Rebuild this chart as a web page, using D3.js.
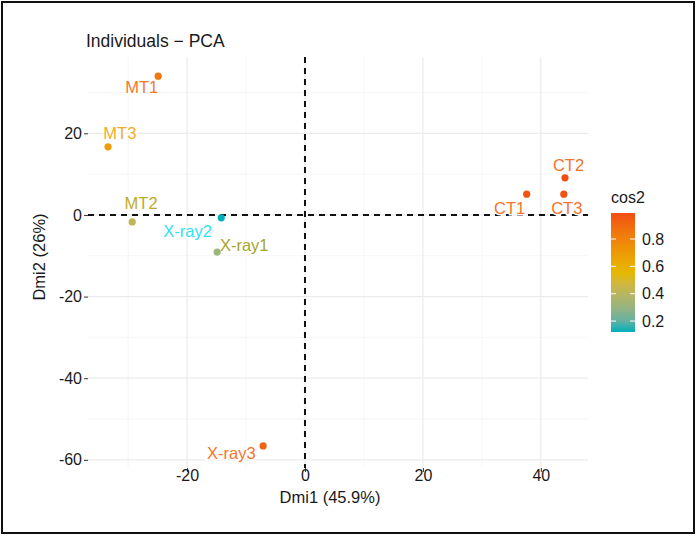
<!DOCTYPE html>
<html>
<head>
<meta charset="utf-8">
<script src="https://cdn.jsdelivr.net/npm/d3@7"></script>
<style>
  body { margin: 0; background: #fff; }
  svg { font-family: Helvetica, Arial, "Liberation Sans", sans-serif; }
</style>
</head>
<body>
<div id="chart"></div>
<script>
// individuals
var names = ["MT1", "MT3", "MT2", "X-ray2", "X-ray1", "X-ray3", "CT1", "CT2", "CT3"];
var dim1 = [-24.9, -33.4, -29.3, -14.2, -14.9, -7.1, 37.6, 44.1, 43.9];
var dim2 = [34.0, 16.7, -1.7, -0.7, -9.1, -56.6, 5.1, 9.1, 5.1];
var cos2 = [0.84, 0.69, 0.42, 0.12, 0.32, 0.92, 0.97, 0.99, 0.98];
// repelled label positions (data units)
var labelDim1 = [-27.7, -31.4, -27.8, -19.9, -10.3, -12.5, 34.7, 44.7, 44.4];
var labelDim2 = [31.3, 20.1, 2.9, -3.9, -7.3, -58.3, 1.7, 12.2, 1.7];

var xTicks = [-20, 0, 20, 40];
var yTicks = [-60, -40, -20, 0, 20];
var xMinor = [-30, -10, 10, 30];
var yMinor = [-50, -30, -10, 10, 30];
var legendTicks = [0.2, 0.4, 0.6, 0.8];

var W = 697, H = 536;
var panel = { left: 88, right: 588, top: 57, bottom: 468 };

var data = names.map(function (n, i) {
  return { name: n, x: dim1[i], y: dim2[i], cos2: cos2[i], lx: labelDim1[i], ly: labelDim2[i] };
});

var svg = d3.select("#chart").append("svg")
    .attr("width", W)
    .attr("height", H);

// outer frame
svg.append("rect")
    .attr("x", 2).attr("y", 2)
    .attr("width", W - 5).attr("height", H - 5)
    .attr("fill", "#fff")
    .attr("stroke", "#111")
    .attr("stroke-width", 2);

var x = d3.scaleLinear().domain([-36.8, 48]).range([panel.left, panel.right]);
var y = d3.scaleLinear().domain([-62, 38.7]).range([panel.bottom, panel.top]);

var cmin = d3.min(cos2), cmax = d3.max(cos2);
var color = d3.scaleLinear()
    .domain([cmin, (cmin + cmax) / 2, cmax])
    .range(["#00AFBB", "#E7B800", "#F24E12"])
    .interpolate(d3.interpolateLab);
// text labels render a bit brighter than the points
var labelColor = d3.scaleLinear()
    .domain([cmin, 0.3, 0.66, 0.8, cmax])
    .range(["#30E2F0", "#A0A52A", "#F4B82A", "#F67A2A", "#F5722A"]);

// grid
var grid = svg.append("g");
grid.selectAll(".minx").data(xMinor).enter().append("line")
    .attr("x1", x).attr("x2", x)
    .attr("y1", panel.top).attr("y2", panel.bottom)
    .attr("stroke", "#F4F4F4").attr("stroke-width", 0.8);
grid.selectAll(".miny").data(yMinor).enter().append("line")
    .attr("y1", y).attr("y2", y)
    .attr("x1", panel.left).attr("x2", panel.right)
    .attr("stroke", "#F4F4F4").attr("stroke-width", 0.8);
grid.selectAll(".majx").data(xTicks).enter().append("line")
    .attr("x1", x).attr("x2", x)
    .attr("y1", panel.top).attr("y2", panel.bottom)
    .attr("stroke", "#EBEBEB").attr("stroke-width", 1.2);
grid.selectAll(".majy").data(yTicks).enter().append("line")
    .attr("y1", y).attr("y2", y)
    .attr("x1", panel.left).attr("x2", panel.right)
    .attr("stroke", "#EBEBEB").attr("stroke-width", 1.2);

// zero lines
svg.append("line")
    .attr("x1", panel.left).attr("x2", panel.right)
    .attr("y1", y(0)).attr("y2", y(0))
    .attr("stroke", "#111").attr("stroke-width", 2)
    .attr("stroke-dasharray", "6,5");
svg.append("line")
    .attr("x1", x(0)).attr("x2", x(0))
    .attr("y1", panel.top).attr("y2", panel.bottom)
    .attr("stroke", "#111").attr("stroke-width", 2)
    .attr("stroke-dasharray", "6,5");

// axes
var xAxis = svg.append("g")
    .attr("transform", "translate(0," + panel.bottom + ")")
    .call(d3.axisBottom(x).tickValues(xTicks).tickSize(4).tickPadding(-2).tickFormat(d3.format("d")));
var yAxis = svg.append("g")
    .attr("transform", "translate(" + panel.left + ",0)")
    .call(d3.axisLeft(y).tickValues(yTicks).tickSize(4).tickPadding(2).tickFormat(d3.format("d")));
[xAxis, yAxis].forEach(function (a) {
  a.select(".domain").remove();
  a.selectAll(".tick line").attr("stroke", "#333");
  a.selectAll(".tick text").attr("fill", "#1a1a1a").style("font-size", "16px");
});
yAxis.selectAll(".tick text").text(function (d) { return d; });
xAxis.selectAll(".tick text").text(function (d) { return d; });

// labels
svg.append("g").selectAll("text")
    .data(data).enter().append("text")
    .attr("x", function (d) { return x(d.lx); })
    .attr("y", function (d) { return y(d.ly); })
    .attr("dy", "0.36em")
    .attr("text-anchor", "middle")
    .attr("fill", function (d) { return labelColor(d.cos2); })
    .attr("stroke", "#fff")
    .attr("stroke-width", 3)
    .attr("paint-order", "stroke")
    .style("font-size", "16.5px")
    .text(function (d) { return d.name; });

// points
svg.append("g").selectAll("circle")
    .data(data).enter().append("circle")
    .attr("cx", function (d) { return x(d.x); })
    .attr("cy", function (d) { return y(d.y); })
    .attr("r", 3.6)
    .attr("fill", function (d) { return color(d.cos2); });

// titles
svg.append("text")
    .attr("x", 86).attr("y", 47)
    .attr("fill", "#1a1a1a")
    .style("font-size", "17.5px")
    .text("Individuals \u2212 PCA");
svg.append("text")
    .attr("x", (panel.left + panel.right) / 2 - 8).attr("y", 503)
    .attr("text-anchor", "middle")
    .attr("fill", "#1a1a1a")
    .style("font-size", "16.5px")
    .text("Dmi1 (45.9%)");
svg.append("text")
    .attr("transform", "translate(45,257) rotate(-90)")
    .attr("text-anchor", "middle")
    .attr("fill", "#1a1a1a")
    .style("font-size", "16.5px")
    .text("Dmi2 (26%)");

// colour legend
var bar = { x: 611, w: 24, top: 213, bottom: 332 };
var ly = d3.scaleLinear().domain([cmin, cmax]).range([bar.bottom, bar.top]);
var defs = svg.append("defs");
var grad = defs.append("linearGradient")
    .attr("id", "cos2grad")
    .attr("x1", 0).attr("y1", 1).attr("x2", 0).attr("y2", 0);
d3.range(0, 1.0001, 0.1).forEach(function (t) {
  grad.append("stop")
      .attr("offset", t)
      .attr("stop-color", color(cmin + t * (cmax - cmin)));
});
svg.append("rect")
    .attr("x", bar.x).attr("y", bar.top)
    .attr("width", bar.w).attr("height", bar.bottom - bar.top)
    .attr("fill", "url(#cos2grad)");
var lt = svg.append("g").selectAll("g").data(legendTicks).enter().append("g");
lt.append("line")
    .attr("x1", bar.x).attr("x2", bar.x + 5)
    .attr("y1", ly).attr("y2", ly)
    .attr("stroke", "#fff").attr("stroke-width", 1);
lt.append("line")
    .attr("x1", bar.x + bar.w - 5).attr("x2", bar.x + bar.w)
    .attr("y1", ly).attr("y2", ly)
    .attr("stroke", "#fff").attr("stroke-width", 1);
lt.append("text")
    .attr("x", bar.x + bar.w + 7)
    .attr("y", ly)
    .attr("dy", "0.36em")
    .attr("fill", "#1a1a1a")
    .style("font-size", "16px")
    .text(function (d) { return d.toFixed(1); });
svg.append("text")
    .attr("x", bar.x).attr("y", 203)
    .attr("fill", "#1a1a1a")
    .style("font-size", "16px")
    .text("cos2");
</script>
</body>
</html>
